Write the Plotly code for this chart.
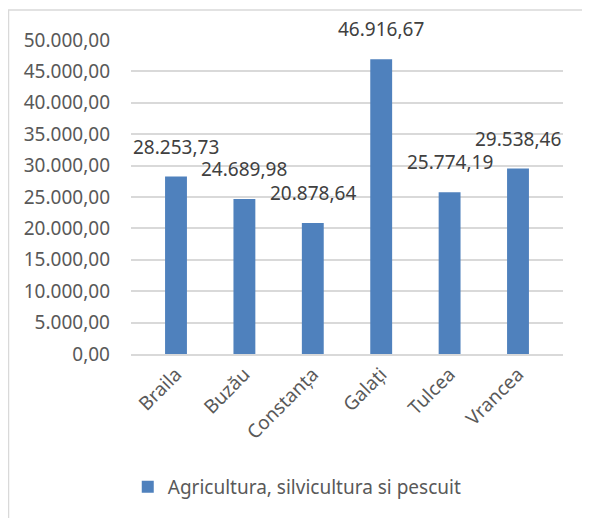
import plotly.graph_objects as go

judete = ["Braila", "Buzău", "Constanța", "Galați", "Tulcea", "Vrancea"]
valori = [28253.73, 24689.98, 20878.64, 46916.67, 25774.19, 29538.46]
serie = "Agricultura, silvicultura si pescuit"

y_ticks = list(range(0, 50001, 5000))

FONT = "Noto Sans"
GRID = "#D9D9D9"


def ro_format(v):
    # 12345.6 -> 12.345,60
    s = f"{v:,.2f}"
    return s.replace(",", "X").replace(".", ",").replace("X", ".")


def main():
    fig = go.Figure()
    fig.add_trace(go.Bar(
        x=judete, y=valori, name=serie,
        marker=dict(color="#4F81BD", line=dict(width=0)),
        showlegend=True,
    ))

    for j, v in zip(judete, valori):
        fig.add_annotation(x=j, y=v, text=ro_format(v), showarrow=False,
                           yanchor="bottom", yshift=15,
                           font=dict(family=FONT, size=19, color="#404040"))

    # chart border
    fig.add_shape(type="rect", xref="paper", yref="paper",
                  x0=-0.2836, x1=1.1, y0=-0.6, y1=1.0955,
                  line=dict(color=GRID, width=1.5), layer="below")

    fig.update_layout(
        width=582, height=510,
        margin=dict(l=123, r=27, t=32, b=164),
        paper_bgcolor="white", plot_bgcolor="white",
        separators=",.",
        font=dict(family=FONT, size=19, color="#595959"),
        bargap=0.68,
        showlegend=True,
        legend=dict(orientation="h", xref="container", x=0.497, xanchor="center",
                    yref="container", y=0.061, yanchor="middle",
                    font=dict(family=FONT, size=19, color="#595959"),
                    itemwidth=30),
        xaxis=dict(tickangle=-45, showline=True, linecolor=GRID, linewidth=1.5,
                   showgrid=False, ticks="", tickfont=dict(size=19)),
        yaxis=dict(range=[0, 50000], tickvals=y_ticks, tickformat=",.2f",
                   showgrid=True, gridcolor=GRID, gridwidth=1.5,
                   zeroline=False, showline=False, ticks="",
                   ticklabelstandoff=20, tickfont=dict(size=19)),
    )
    fig.write_html("out.html")


if __name__ == "__main__":
    main()
